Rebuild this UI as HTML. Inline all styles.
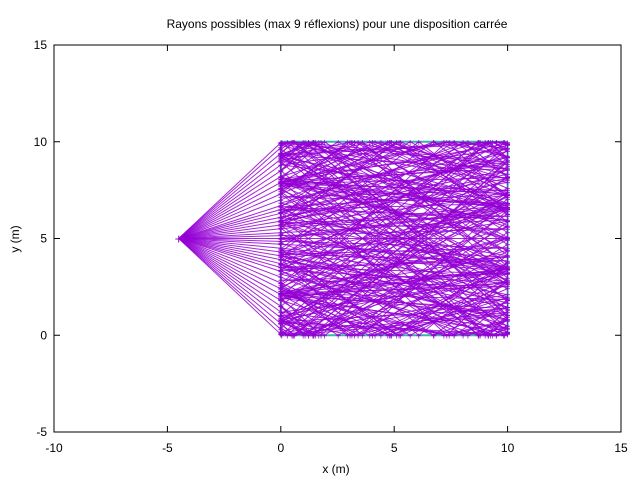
<!DOCTYPE html>
<html><head><meta charset="utf-8"><style>body{margin:0;background:#fff}svg{display:block;font-family:"Liberation Sans",sans-serif}</style></head>
<body>
<svg id="c" width="640" height="480">
<rect width="640" height="480" fill="#fff"/>
<text x="337" y="28" font-size="12" text-anchor="middle">Rayons possibles (max 9 réflexions) pour une disposition carrée</text>
<g id="plot"></g>
<rect x="54" y="45" width="567" height="387" fill="none" stroke="#000" stroke-width="1"/>
<g id="axes" font-size="12"></g>
<text x="336" y="473" font-size="12" text-anchor="middle">x (m)</text>
<text x="19" y="239" font-size="12" text-anchor="middle" transform="rotate(-90 19 239)">y (m)</text>
</svg>
<script>
const xTicks=[-10,-5,0,5,10,15];
const yTicks=[-5,0,5,10,15];
const source=[-4.5,5];
const entryY=[0.05,0.3,0.6,0.9,1.2,1.5,1.8,2.1,2.4,2.7,3.0,3.3,3.5,3.7,3.9,4.1,4.3,4.5,4.7,4.85,5.0,5.15,5.3,5.5,5.7,5.9,6.1,6.3,6.5,6.7,7.0,7.3,7.6,7.9,8.2,8.5,8.8,9.1,9.4,9.7,9.95];
const maxRefl=9;
const NS="http://www.w3.org/2000/svg";
const X=v=>54+(v+10)*567/25, Y=v=>432-(v+5)*387/20;
const svg=document.getElementById('c'),plot=document.getElementById('plot'),axes=document.getElementById('axes');
function mk(t,a,p){const e=document.createElementNS(NS,t);for(const k in a)e.setAttribute(k,a[k]);(p||plot).appendChild(e);return e;}
xTicks.forEach(v=>{
 const l=mk('line',{x1:X(v),x2:X(v),y1:432,y2:426,stroke:'#000'},axes);
 
 
 const l2=mk('line',{x1:X(v),x2:X(v),y1:45,y2:51,stroke:'#000'},axes);
 
 
 const t=mk('text',{x:X(v),y:452,'text-anchor':'middle'},axes);t.textContent=v;
 
 
});
yTicks.forEach(v=>{
 const l=mk('line',{x1:54,x2:60,y1:Y(v),y2:Y(v),stroke:'#000'},axes);
 
 
 const l2=mk('line',{x1:615,x2:621,y1:Y(v),y2:Y(v),stroke:'#000'},axes);
 
 
 const t=mk('text',{x:47,y:Y(v)+4,'text-anchor':'end'},axes);t.textContent=v;
 
 
});
// walls
const walls=[[0,0,10,0,'#3cb4a8'],[0,10,10,10,'#3cb4a8'],[10,0,10,10,'#3cb4a8'],[0,0,0,10,'#4060a0']];
walls.forEach(w=>{const l=mk('line',{x1:X(w[0]),y1:Y(w[1]),x2:X(w[2]),y2:Y(w[3]),stroke:w[4],'stroke-width':2});
 
 });
const rays=mk('g',{stroke:'#9400d3','stroke-width':1,fill:'none','stroke-opacity':0.85});


entryY.forEach(ey=>{
 let px=0,py=ey,dx=-source[0],dy=ey-source[1];
 const n=Math.hypot(dx,dy);dx/=n;dy/=n;
 let pts=[[source[0],source[1]],[px,py]];
 for(let i=0;i<maxRefl;i++){
  let t=1e9,w=0;
  if(dx>1e-9){const tt=(10-px)/dx;if(tt<t){t=tt;w=0;}}
  if(dx<-1e-9){const tt=(0-px)/dx;if(tt<t){t=tt;w=0;}}
  if(dy>1e-9){const tt=(10-py)/dy;if(tt<t){t=tt;w=1;}}
  if(dy<-1e-9){const tt=(0-py)/dy;if(tt<t){t=tt;w=1;}}
  px+=dx*t;py+=dy*t;pts.push([px,py]);
  if(w===0)dx=-dx;else dy=-dy;
 }
 const p=mk('polyline',{points:pts.map(q=>X(q[0]).toFixed(1)+','+Y(q[1]).toFixed(1)).join(' ')},rays);
 
 
 pts.slice(1).forEach(q=>{const m=mk('text',{x:X(q[0]),y:Y(q[1])+4,'font-size':10,'text-anchor':'middle',fill:'#9400d3',stroke:'none'},rays);m.textContent='+';
  
  });
});
const s=mk('text',{x:X(source[0]),y:Y(source[1])+5,'font-size':14,'text-anchor':'middle',fill:'#9400d3'});s.textContent='+';


</script>
</body></html>
